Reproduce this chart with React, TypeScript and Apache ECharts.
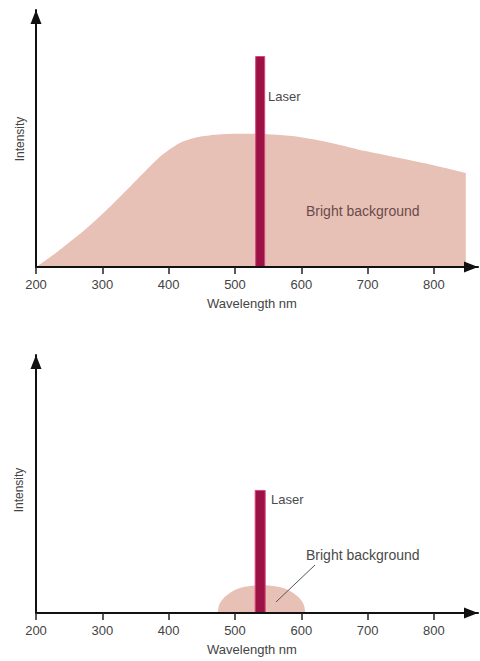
import React, { useEffect, useRef } from "react";
import * as echarts from "echarts";

// ---- data (intensity in arbitrary units, 0–100 axis) ----
const tickValues = [200, 300, 400, 500, 600, 700, 800];

const topBackgroundWavelength = [200, 220, 240, 265, 290, 315, 340, 365, 390, 416, 441, 461, 500, 530, 597, 647, 697, 748, 798, 848];
const topBackgroundIntensity = [0, 3.6, 7.5, 12.6, 18.2, 24.3, 30.8, 37.4, 43.6, 48.2, 50.4, 51.2, 51.8, 51.8, 50.6, 48.2, 45.1, 42.4, 39.7, 36.6];
const topLaser = [[538, 82.1]];

const bottomBackgroundWavelength = [474, 476, 482, 495, 510, 540, 570, 585, 598, 604, 606];
const bottomBackgroundIntensity = [0, 3.0, 5.5, 8.2, 9.9, 10.9, 9.9, 8.2, 5.5, 3.0, 0];
const bottomLaser = [[538, 47.7]];

const FONT = "'Liberation Sans', Arial, sans-serif";
const FILL = "#e8c1b6";
const LASER = "#9c1244";

function zip(xs: number[], ys: number[]) {
  return xs.map((x, i) => [x, ys[i]]);
}

export default function App() {
  const ref = useRef<HTMLDivElement>(null);

  useEffect(() => {
    if (!ref.current) return;
    const chart = echarts.init(ref.current, undefined, { renderer: "svg" });

    const xAxisBase = (gridIndex: number) => ({
      type: "value",
      gridIndex,
      min: 200,
      max: 866.4,
      axisLine: {
        show: true,
        onZero: true,
        lineStyle: { color: "#111", width: 2 },
        symbol: ["none", "triangle"],
        symbolSize: [11, 14],
        symbolOffset: [0, -7],
      },
      axisTick: {
        show: true,
        customValues: tickValues,
        length: 7,
        lineStyle: { color: "#222", width: 1.5 },
      },
      axisLabel: {
        show: true,
        customValues: tickValues,
        margin: 11,
        color: "#444",
        fontSize: 13,
        fontFamily: FONT,
      },
      splitLine: { show: false },
      z: 5,
    });

    const yAxisBase = (gridIndex: number) => ({
      type: "value",
      gridIndex,
      min: 0,
      max: 100,
      axisLine: {
        show: true,
        lineStyle: { color: "#111", width: 2 },
        symbol: ["none", "triangle"],
        symbolSize: [11, 14],
        symbolOffset: [0, -7],
      },
      axisTick: { show: false },
      axisLabel: { show: false },
      splitLine: { show: false },
      z: 5,
    });

    const textStyle = (extra: any) => ({
      fontFamily: FONT,
      fontSize: 13,
      fill: "#444",
      ...extra,
    });

    chart.setOption({
      animation: false,
      backgroundColor: "#ffffff",
      grid: [
        { left: 36, top: 10, width: 442, height: 257 },
        { left: 36, top: 355, width: 442, height: 258 },
      ],
      xAxis: [xAxisBase(0), xAxisBase(1)],
      yAxis: [yAxisBase(0), yAxisBase(1)],
      series: [
        {
          type: "line",
          xAxisIndex: 0,
          yAxisIndex: 0,
          data: zip(topBackgroundWavelength, topBackgroundIntensity),
          smooth: 0.25,
          symbol: "none",
          lineStyle: { width: 0 },
          areaStyle: { color: FILL, opacity: 1 },
          z: 1,
        },
        {
          type: "bar",
          xAxisIndex: 0,
          yAxisIndex: 0,
          data: topLaser,
          barWidth: 10,
          itemStyle: { color: LASER, borderColor: "#d9457e", borderWidth: 1 },
          z: 2,
        },
        {
          type: "line",
          xAxisIndex: 1,
          yAxisIndex: 1,
          data: zip(bottomBackgroundWavelength, bottomBackgroundIntensity),
          smooth: 0.3,
          symbol: "none",
          lineStyle: { width: 0 },
          areaStyle: { color: FILL, opacity: 1 },
          z: 1,
        },
        {
          type: "bar",
          xAxisIndex: 1,
          yAxisIndex: 1,
          data: bottomLaser,
          barWidth: 11,
          itemStyle: { color: LASER, borderColor: "#d9457e", borderWidth: 1 },
          z: 2,
        },
      ],
      graphic: {
        elements: [
          // axis names
          { type: "text", z: 100, x: 252, y: 303, style: textStyle({ text: "Wavelength nm", align: "center", verticalAlign: "middle" }) },
          { type: "text", z: 100, x: 252, y: 649, style: textStyle({ text: "Wavelength nm", align: "center", verticalAlign: "middle" }) },
          { type: "text", z: 100, x: 20, y: 139, rotation: Math.PI / 2, style: textStyle({ text: "Intensity", fontSize: 12, align: "center", verticalAlign: "middle" }) },
          { type: "text", z: 100, x: 19, y: 490, rotation: Math.PI / 2, style: textStyle({ text: "Intensity", fontSize: 12, align: "center", verticalAlign: "middle" }) },
          // annotations
          { type: "text", z: 100, x: 268, y: 96, style: textStyle({ text: "Laser", align: "left", verticalAlign: "middle", fill: "#4a4a4a" }) },
          { type: "text", z: 100, x: 306, y: 211, style: textStyle({ text: "Bright background", fontSize: 14, align: "left", verticalAlign: "middle", fill: "#6a4b4b" }) },
          { type: "text", z: 100, x: 271, y: 499, style: textStyle({ text: "Laser", align: "left", verticalAlign: "middle", fill: "#4a4a4a" }) },
          { type: "text", z: 100, x: 306, y: 555, style: textStyle({ text: "Bright background", fontSize: 14, align: "left", verticalAlign: "middle", fill: "#4a4a4a" }) },
          { type: "line", z: 100, shape: { x1: 315, y1: 565, x2: 276, y2: 602 }, style: { stroke: "#555", lineWidth: 1 } },
        ],
      },
    });

    return () => chart.dispose();
  }, []);

  return (
    <div
      ref={ref}
      style={{ position: "absolute", left: 0, top: 0, width: 480, height: 661 }}
    />
  );
}
